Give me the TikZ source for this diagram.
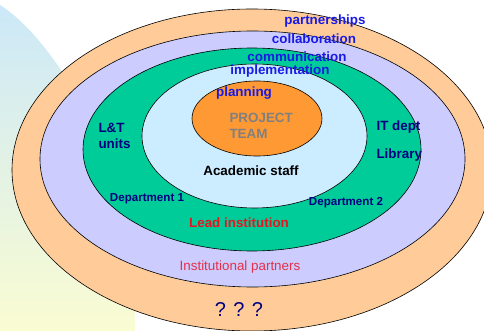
\documentclass[tikz,border=0pt]{standalone}
\usepackage{fontspec}
\setmainfont{Liberation Sans}
\usetikzlibrary{shapes.geometric,positioning}

\definecolor{peach}{HTML}{FFCC99}
\definecolor{lavender}{HTML}{CCCCFF}
\definecolor{sea}{HTML}{00CC99}
\definecolor{sky}{HTML}{CCECFF}
\definecolor{team}{HTML}{FF9933}
\definecolor{word}{HTML}{1A1AE6}
\definecolor{navy}{HTML}{000080}
\definecolor{leadred}{HTML}{E8141E}
\definecolor{partred}{HTML}{E43048}
\definecolor{bgtop}{HTML}{CCE8F8}
\definecolor{bgbot}{HTML}{FAFCD2}

\begin{document}
\begin{tikzpicture}[x=1pt,y=-1pt,
		ring/.style={ellipse,draw=black,line width=0.6pt,inner sep=0pt},
		act/.style={text=word,font=\bfseries\fontsize{13.4}{16}\selectfont},
		unit/.style={text=navy,font=\bfseries\fontsize{13.4}{16}\selectfont,align=left},
		dept/.style={text=navy,font=\bfseries\fontsize{11.6}{14}\selectfont}]
		\useasboundingbox (0,0) rectangle (484,331);
		\clip (0,0) rectangle (484,331);
		% background shade
		\shade[top color=bgtop,bottom color=bgbot]
			(0,5) .. controls (40,30) and (100,110) .. (135,240) -- (135,331) -- (0,331) -- cycle;

		% rings, outside in
		\node[ring,fill=peach,minimum width=480pt,minimum height=322pt] (outer) at (252,170) {};
		\node[ring,fill=lavender,minimum width=425pt,minimum height=256pt] (partner) at (252.5,159) {};
		\node[ring,fill=sea,minimum width=338pt,minimum height=203pt] (lead) at (252,149.5) {};
		\node[ring,fill=sky,minimum width=225pt,minimum height=144pt] (staff) at (254.5,136) {};
		\node[ring,fill=team,minimum width=130pt,minimum height=75pt] (core) at (257,118.5) {};

		% activities
		\node[act] (partnerships) at (325,21) {partnerships};
		\node[act] (collab) at (314,39) {collaboration};
		\node[act] (comm) at (297,57) {communication};
		\node[act] (impl) at (280,71) {implementation};
		\node[act] (plan) at (244,93) {planning};

		% labels
		\node[unit,text=gray,anchor=west] (proj) at (226,126) {PROJECT\\TEAM};
		\node[font=\bfseries\fontsize{13.4}{16}\selectfont] (acad) at (251,171) {Academic staff};
		\node[unit,anchor=west] (lt) at (95,136) {L\&T\\units};
		\node[unit,anchor=west] (it) at (373,127) {IT dept};
		\node[unit,anchor=west] (lib) at (373,155) {Library};
		\node[dept] (d1) at (147,199) {Department 1};
		\node[dept] (d2) at (346,203) {Department 2};
		\node[text=leadred,font=\bfseries\fontsize{13.4}{16}\selectfont] (leadlbl) at (239,223) {Lead institution};
		\node[text=partred,font=\fontsize{13.4}{16}\selectfont] (instlbl) at (240,267) {Institutional partners};
		\node[text=navy,font=\fontsize{20}{24}\selectfont] (unknown) at (239,310) {? ? ?};
	\end{tikzpicture}
\end{document}
